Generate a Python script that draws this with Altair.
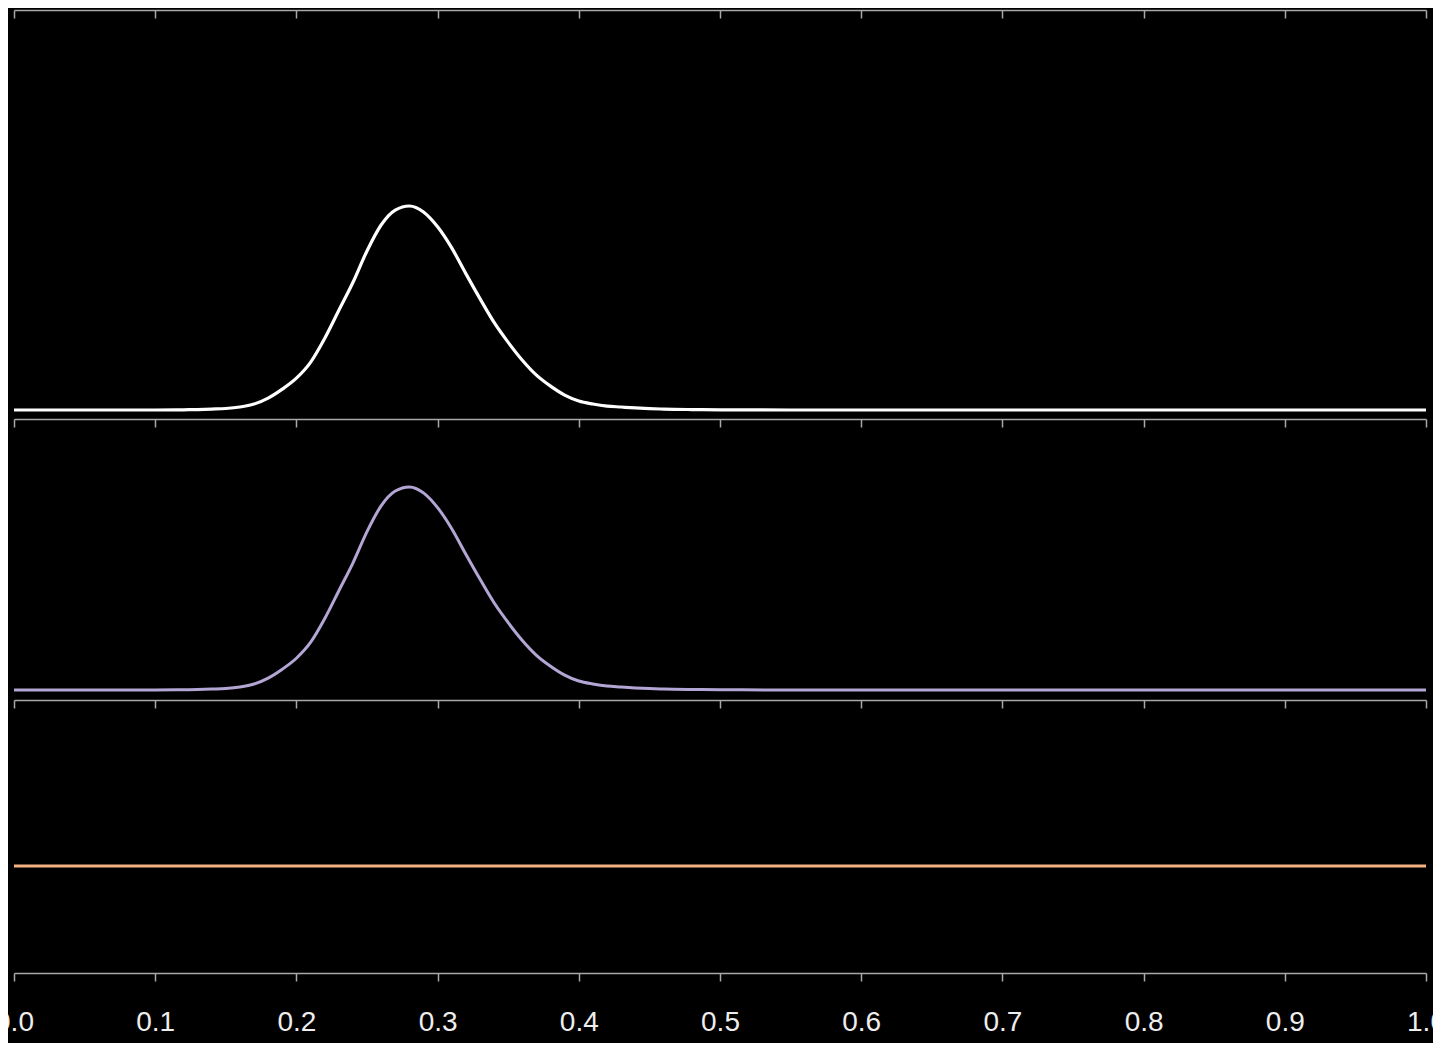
import altair as alt
import pandas as pd

# x positions (proportion)
x_vals = [0.00, 0.05, 0.10, 0.12, 0.13, 0.14, 0.15, 0.16, 0.17, 0.18, 0.19,
          0.20, 0.21, 0.22, 0.23, 0.24, 0.25, 0.26, 0.27, 0.28, 0.29,
          0.30, 0.31, 0.32, 0.33, 0.34, 0.35, 0.36, 0.37, 0.38, 0.39,
          0.40, 0.41, 0.42, 0.43, 0.44, 0.45, 0.46, 0.48, 0.50, 0.55,
          0.60, 0.70, 0.80, 0.90, 1.00]

# top (white) curve
top_vals = [0.0, 0.0, 0.0, 0.01, 0.02, 0.04, 0.065, 0.13, 0.26, 0.52, 0.91,
            1.39, 2.08, 3.12, 4.34, 5.56, 6.94, 8.07, 8.72, 8.90, 8.64,
            7.99, 7.07, 5.95, 4.86, 3.82, 2.95, 2.17, 1.52, 1.04, 0.65,
            0.39, 0.26, 0.17, 0.13, 0.09, 0.06, 0.04, 0.02, 0.01, 0.0,
            0.0, 0.0, 0.0, 0.0, 0.0]

# middle (purple) curve
mid_vals = [0.0, 0.0, 0.0, 0.01, 0.02, 0.04, 0.065, 0.13, 0.26, 0.52, 0.91,
            1.39, 2.08, 3.12, 4.34, 5.56, 6.94, 8.07, 8.72, 8.90, 8.64,
            7.99, 7.07, 5.95, 4.86, 3.82, 2.95, 2.17, 1.52, 1.04, 0.65,
            0.39, 0.26, 0.17, 0.13, 0.09, 0.06, 0.04, 0.02, 0.01, 0.0,
            0.0, 0.0, 0.0, 0.0, 0.0]

# bottom (orange) flat line
bot_vals = [1.0] * len(x_vals)

tick_values = [0.0, 0.1, 0.2, 0.3, 0.4, 0.5, 0.6, 0.7, 0.8, 0.9, 1.0]

df = pd.DataFrame({"x": x_vals, "top": top_vals, "mid": mid_vals, "bot": bot_vals})

W = 1412
H = 963          # whole stacked plot area
AX_COLOR = "#a8a8a8"

xscale = alt.Scale(domain=[0, 1], nice=False, zero=False)


def xaxis(labels=False, offset=0):
    kw = dict(
        orient="bottom",
        values=tick_values,
        labels=labels,
        grid=False,
        title=None,
        domainColor=AX_COLOR,
        domainWidth=1.5,
        tickColor=AX_COLOR,
        tickWidth=1.5,
        tickSize=8,
        format=".1f",
        labelFont="Liberation Sans",
        labelFontSize=28,
        labelColor="#eeeeee",
        labelPadding=27,
        labelFlush=False,
        labelOverlap=False,
    )
    if offset:
        kw["offset"] = offset
    return alt.Axis(**kw)


base = alt.Chart(df)

white = base.mark_line(color="#ffffff", strokeWidth=3.2, interpolate="monotone").encode(
    x=alt.X("x:Q", scale=xscale, axis=xaxis(offset=-554)),
    y=alt.Y("top:Q", scale=alt.Scale(domain=[-24.56, 17.45], nice=False, zero=False), axis=None),
)
purple = base.mark_line(color="#b3a6d4", strokeWidth=3, interpolate="monotone").encode(
    x=alt.X("x:Q", scale=xscale, axis=xaxis(offset=-273)),
    y=alt.Y("mid:Q", scale=alt.Scale(domain=[-12.41, 29.81], nice=False, zero=False), axis=None),
)
orange = base.mark_line(color="#f4b183", strokeWidth=3).encode(
    x=alt.X("x:Q", scale=xscale, axis=xaxis(labels=True)),
    y=alt.Y("bot:Q", scale=alt.Scale(domain=[0, 9.0], nice=False, zero=False), axis=None),
)
top_axis = base.mark_line(strokeOpacity=0).encode(
    x=alt.X("x:Q", scale=xscale, axis=xaxis(offset=-H)),
    y=alt.Y("bot:Q", scale=alt.Scale(domain=[0, 9.0], nice=False, zero=False), axis=None),
)

chart = alt.layer(top_axis, white, purple, orange).resolve_axis(
    x="independent"
).resolve_scale(y="independent").properties(
    width=W,
    height=H,
    autosize=alt.AutoSizeParams(type="none"),
    padding={"left": 6, "top": 2, "right": 7, "bottom": 70},
).configure(background="#000000").configure_view(strokeOpacity=0)

chart.save("out.html", embed_options={"renderer": "svg", "actions": False})
